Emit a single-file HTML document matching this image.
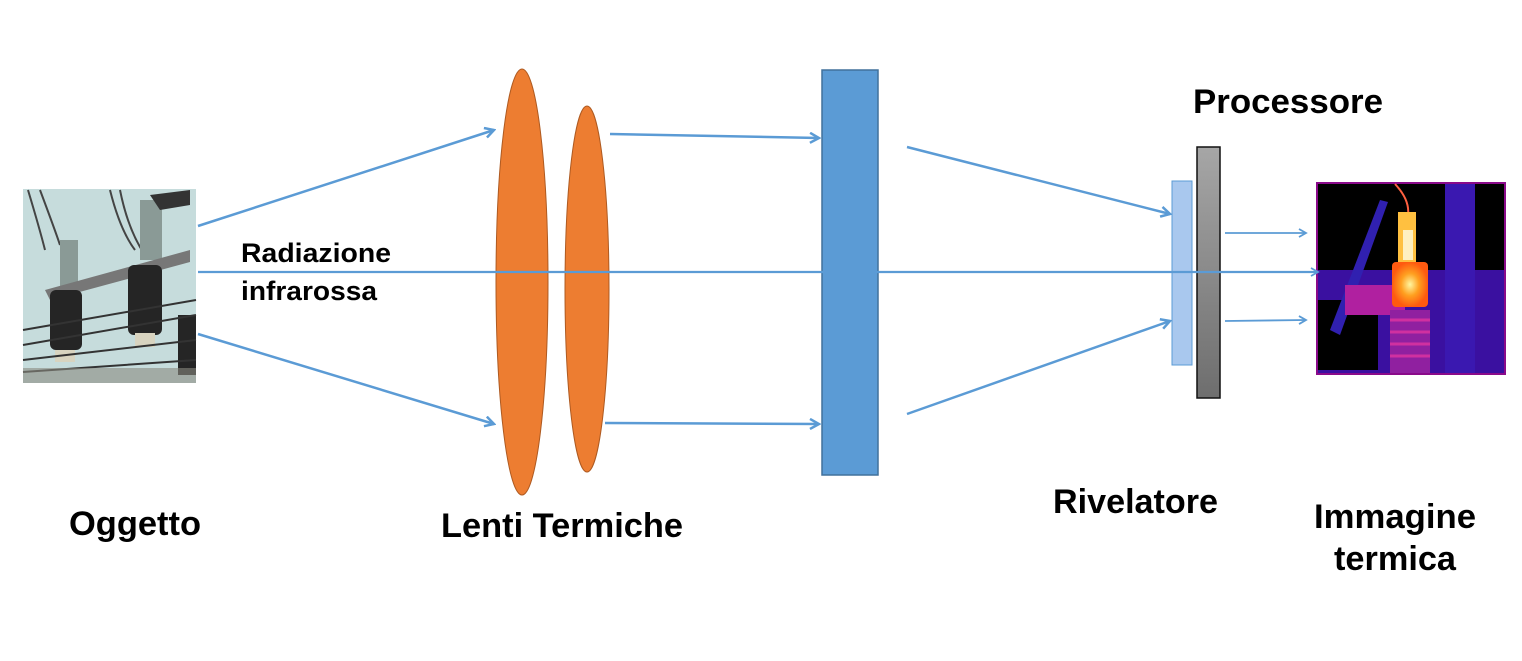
<!DOCTYPE html>
<html><head><meta charset="utf-8"><style>
html,body{margin:0;padding:0;background:#fff;width:1522px;height:661px;overflow:hidden}
svg{display:block}
text{font-family:"Liberation Sans",Arial,sans-serif;font-weight:bold;fill:#000}
</style></head><body>
<svg width="1522" height="661" viewBox="0 0 1522 661" xmlns="http://www.w3.org/2000/svg">
<defs>
<marker id="ah" markerWidth="12" markerHeight="12" refX="10" refY="6" orient="auto" markerUnits="userSpaceOnUse">
<path d="M1,1 L10,6 L1,11" fill="none" stroke="#5B9BD5" stroke-width="2.5"/>
</marker>
<marker id="ahs" markerWidth="10" markerHeight="10" refX="8" refY="5" orient="auto" markerUnits="userSpaceOnUse">
<path d="M1,1 L8,5 L1,9" fill="none" stroke="#5B9BD5" stroke-width="1.8"/>
</marker>
<linearGradient id="gray" x1="0" y1="0" x2="0" y2="1"><stop offset="0" stop-color="#a6a6a6"/><stop offset="1" stop-color="#6e6e6e"/></linearGradient>
<radialGradient id="hot" cx="0.5" cy="0.5" r="0.5"><stop offset="0" stop-color="#fff6a0"/><stop offset="0.5" stop-color="#ffa020"/><stop offset="1" stop-color="#ff5a10"/></radialGradient>
</defs>

<!-- object photo -->
<g>
<rect x="23" y="189" width="173" height="194" fill="#c6dcdc"/>
<path d="M28,190 Q40,230 45,250 M40,190 Q55,230 60,245 M110,190 Q120,230 135,250 M120,190 Q128,230 145,255" stroke="#444" stroke-width="2" fill="none"/>
<rect x="60" y="240" width="18" height="60" fill="#8a9a96"/>
<rect x="140" y="200" width="22" height="60" fill="#8a9a96"/>
<path d="M150,195 L190,190 L190,205 L160,210Z" fill="#333"/>
<path d="M45,290 L190,250 L190,262 L50,300Z" fill="#777"/>
<rect x="50" y="290" width="32" height="60" rx="6" fill="#252525"/>
<rect x="128" y="265" width="34" height="70" rx="6" fill="#252525"/>
<rect x="178" y="315" width="18" height="60" fill="#252525"/>
<rect x="55" y="350" width="20" height="12" fill="#d8d4c0"/>
<rect x="135" y="333" width="20" height="14" fill="#d8d4c0"/>
<path d="M23,330 L196,300 M23,345 L196,315 M23,360 L196,340 M23,372 L196,360" stroke="#333" stroke-width="2" fill="none"/>
<rect x="23" y="368" width="173" height="15" fill="#8a8a80" opacity="0.6"/>
</g>

<!-- lenses -->
<ellipse cx="522" cy="282" rx="26" ry="213" fill="#ED7D31" stroke="#AE5A21" stroke-width="1"/>
<ellipse cx="587" cy="289" rx="22" ry="183" fill="#ED7D31" stroke="#AE5A21" stroke-width="1"/>

<!-- blue plate -->
<rect x="822" y="70" width="56" height="405" fill="#5B9BD5" stroke="#41719C" stroke-width="1.5"/>

<!-- detector & processor -->
<rect x="1172" y="181" width="20" height="184" fill="#A9C8EE" stroke="#5B9BD5" stroke-width="1"/>
<rect x="1197" y="147" width="23" height="251" fill="url(#gray)" stroke="#111" stroke-width="1.5"/>

<!-- thermal image -->
<g>
<rect x="1317" y="183" width="188" height="191" fill="#000" stroke="#8a0a8a" stroke-width="2"/>
<rect x="1318" y="270" width="186" height="103" fill="#3a10a0"/>
<rect x="1318" y="300" width="60" height="70" fill="#000"/>
<rect x="1445" y="184" width="30" height="189" fill="#3a18b0"/>
<path d="M1330,330 L1380,200 L1388,202 L1340,335Z" fill="#3020b0"/>
<rect x="1345" y="285" width="60" height="30" fill="#b020a0"/>
<rect x="1390" y="310" width="40" height="63" fill="#9020a0"/>
<path d="M1390,320 h40 M1390,332 h40 M1390,344 h40 M1390,356 h40" stroke="#d030a0" stroke-width="3"/>
<path d="M1395,184 Q1410,200 1408,215" stroke="#ff6040" stroke-width="2" fill="none"/>
<rect x="1398" y="212" width="18" height="50" fill="#ffc040"/>
<rect x="1403" y="230" width="10" height="30" fill="#fff0c0"/>
<rect x="1392" y="262" width="36" height="45" rx="4" fill="url(#hot)"/>
</g>

<!-- rays -->
<g stroke="#5B9BD5" stroke-width="2.5" fill="none">
<line x1="198" y1="226" x2="494" y2="130" marker-end="url(#ah)"/>
<line x1="198" y1="334" x2="494" y2="424" marker-end="url(#ah)"/>
<line x1="610" y1="134" x2="819" y2="138" marker-end="url(#ah)"/>
<line x1="605" y1="423" x2="819" y2="424" marker-end="url(#ah)"/>
<line x1="907" y1="147" x2="1170" y2="214" marker-end="url(#ah)"/>
<line x1="907" y1="414" x2="1170" y2="321" marker-end="url(#ah)"/>
</g>
<g stroke="#5B9BD5" stroke-width="1.8" fill="none">
<line x1="198" y1="272" x2="1318" y2="272" stroke-width="2.2" marker-end="url(#ahs)"/>
<line x1="1225" y1="233" x2="1306" y2="233" marker-end="url(#ahs)"/>
<line x1="1225" y1="321" x2="1306" y2="320" marker-end="url(#ahs)"/>
</g>

<!-- labels -->
<text x="241" y="262" font-size="27" textLength="150" lengthAdjust="spacingAndGlyphs">Radiazione</text>
<text x="241" y="300" font-size="27" textLength="136" lengthAdjust="spacingAndGlyphs">infrarossa</text>
<text x="69" y="535" font-size="34" textLength="132" lengthAdjust="spacingAndGlyphs">Oggetto</text>
<text x="441" y="537" font-size="34" textLength="242" lengthAdjust="spacingAndGlyphs">Lenti Termiche</text>
<text x="1053" y="513" font-size="34" textLength="165" lengthAdjust="spacingAndGlyphs">Rivelatore</text>
<text x="1193" y="113" font-size="34" textLength="190" lengthAdjust="spacingAndGlyphs">Processore</text>
<text x="1314" y="528" font-size="34" textLength="162" lengthAdjust="spacingAndGlyphs">Immagine</text>
<text x="1334" y="570" font-size="34" textLength="122" lengthAdjust="spacingAndGlyphs">termica</text>
</svg>
</body></html>
